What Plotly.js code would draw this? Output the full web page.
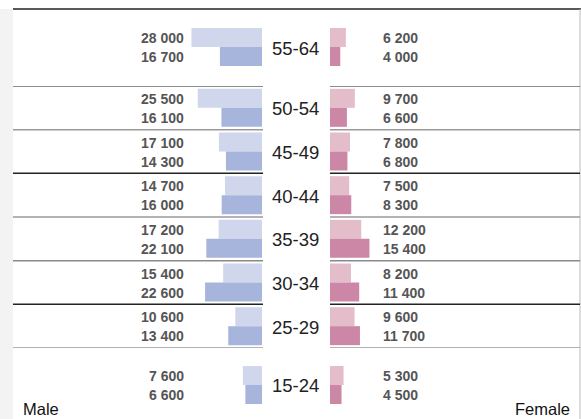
<!DOCTYPE html>
<html>
<head>
<meta charset="utf-8">
<script src="https://cdn.plot.ly/plotly-3.0.1.min.js"></script>
<style>html,body{margin:0;padding:0;background:#fff;}#chart{width:581px;height:419px;}</style>
</head>
<body>
<div id="chart"></div>
<script>
// ---- data ----
const ages = ['55-64', '50-54', '45-49', '40-44', '35-39', '30-34', '25-29', '15-24'];
const maleLight = [28000, 25500, 17100, 14700, 17200, 15400, 10600, 7600];
const maleDark = [16700, 16100, 14300, 16000, 22100, 22600, 13400, 6600];
const femaleLight = [6200, 9700, 7800, 7500, 12200, 8200, 9600, 5300];
const femaleDark = [4000, 6600, 6800, 8300, 15400, 11400, 11700, 4500];
const sideLabels = ['Male', 'Female'];

// ---- layout helpers ----
const W = 581, H = 419;
const px = v => v / W;
const py = v => 1 - v / H;
const fam = "'Liberation Sans', Arial, sans-serif";
const fmt = n => String(n).replace(/\B(?=(\d{3})+(?!\d))/g, ' ');

const colors = {maleLight: '#d0d6ec', maleDark: '#a7b5dd', femaleLight: '#e4bdcb', femaleDark: '#cc87a7'};

// row groups: top row, middle rows, bottom row (each on its own y axis)
const groups = [
  {idx: [0], axis: 'y2'},
  {idx: [1, 2, 3, 4, 5, 6], axis: 'y'},
  {idx: [7], axis: 'y3'}
];

const series = [
  {vals: maleLight, x: 'x', color: colors.maleLight},
  {vals: maleDark, x: 'x', color: colors.maleDark},
  {vals: femaleLight, x: 'x2', color: colors.femaleLight},
  {vals: femaleDark, x: 'x2', color: colors.femaleDark}
];

const traces = [];
groups.forEach(g => {
  series.forEach(s => {
    traces.push({
      type: 'bar', orientation: 'h',
      x: g.idx.map(i => s.vals[i]),
      y: g.idx.map(i => ages[i]),
      xaxis: s.x, yaxis: g.axis,
      marker: {color: s.color, line: {width: 0}},
      hoverinfo: 'skip'
    });
  });
});

const annotations = [];
const axisOf = i => groups.find(g => g.idx.includes(i)).axis;
ages.forEach((a, i) => {
  const yr = axisOf(i);
  const valFont = {family: fam, size: 14, color: '#555'};
  annotations.push({xref: 'paper', x: px(186), xanchor: 'right', yref: yr, y: a, yanchor: 'middle', yshift: 9, text: '<b>' + fmt(maleLight[i]) + '</b>', showarrow: false, font: valFont});
  annotations.push({xref: 'paper', x: px(186), xanchor: 'right', yref: yr, y: a, yanchor: 'middle', yshift: -10, text: '<b>' + fmt(maleDark[i]) + '</b>', showarrow: false, font: valFont});
  annotations.push({xref: 'paper', x: px(381), xanchor: 'left', yref: yr, y: a, yanchor: 'middle', yshift: 9, text: '<b>' + fmt(femaleLight[i]) + '</b>', showarrow: false, font: valFont});
  annotations.push({xref: 'paper', x: px(381), xanchor: 'left', yref: yr, y: a, yanchor: 'middle', yshift: -10, text: '<b>' + fmt(femaleDark[i]) + '</b>', showarrow: false, font: valFont});
  annotations.push({xref: 'paper', x: px(295), xanchor: 'center', yref: yr, y: a, yanchor: 'middle', yshift: -1, text: a, showarrow: false, font: {family: fam, size: 18.5, color: '#222'}});
});
annotations.push({xref: 'paper', x: px(21), xanchor: 'left', yref: 'paper', y: 0, yanchor: 'bottom', yshift: -1, text: sideLabels[0], showarrow: false, font: {family: fam, size: 16.5, color: '#111'}});
annotations.push({xref: 'paper', x: px(572), xanchor: 'right', yref: 'paper', y: 0, yanchor: 'bottom', yshift: -1, text: sideLabels[1], showarrow: false, font: {family: fam, size: 16.5, color: '#111'}});

// separators between rows (middle axis category boundaries)
const sepColors = ['#666', '#9a9a9a', '#222', '#9a9a9a', '#8a8a8a', '#222', '#9a9a9a'];
const shapes = [
  {type: 'rect', xref: 'paper', yref: 'paper', x0: 0, x1: px(13), y0: 0, y1: py(9), fillcolor: '#f3f3f3', line: {width: 0}, layer: 'below'},
  {type: 'line', xref: 'paper', yref: 'paper', x0: px(13), x1: 1, y0: py(9), y1: py(9), line: {color: '#222', width: 1.5}},
  {type: 'line', xref: 'paper', yref: 'paper', x0: px(580), x1: px(580), y0: 0, y1: py(9), line: {color: '#bbb', width: 1}}
];
sepColors.forEach((c, k) => {
  const yv = k - 0.5;
  shapes.push({type: 'line', xref: 'paper', yref: 'y', x0: px(13), x1: px(263), y0: yv, y1: yv, line: {color: c, width: 1.5}});
  shapes.push({type: 'line', xref: 'paper', yref: 'y', x0: px(330), x1: px(580), y0: yv, y1: yv, line: {color: c, width: 1.5}});
});

const hidden = {showgrid: false, zeroline: false, showline: false, showticklabels: false, ticks: '', fixedrange: true};

const layout = {
  width: W, height: H,
  margin: {l: 0, r: 0, t: 0, b: 0, pad: 0},
  paper_bgcolor: '#fff', plot_bgcolor: 'rgba(0,0,0,0)',
  showlegend: false,
  barmode: 'group', bargap: 0.13, bargroupgap: 0,
  xaxis: Object.assign({domain: [0, px(262)], range: [104000, 0], anchor: 'y'}, hidden),
  xaxis2: Object.assign({domain: [px(330), 1], range: [0, 98000], anchor: 'y'}, hidden),
  yaxis: Object.assign({domain: [py(348), py(86)], type: 'category', categoryorder: 'array', categoryarray: ages.slice(1, 7), range: [5.5, -0.5], anchor: 'x'}, hidden),
  yaxis2: Object.assign({domain: [py(86), py(9)], type: 'category', range: [0.893, -0.870], anchor: 'x'}, hidden),
  yaxis3: Object.assign({domain: [0, py(348)], type: 'category', range: [0.779, -0.847], anchor: 'x'}, hidden),
  annotations: annotations,
  shapes: shapes
};

Plotly.newPlot('chart', traces, layout, {staticPlot: true, displayModeBar: false});
</script>
</body>
</html>
